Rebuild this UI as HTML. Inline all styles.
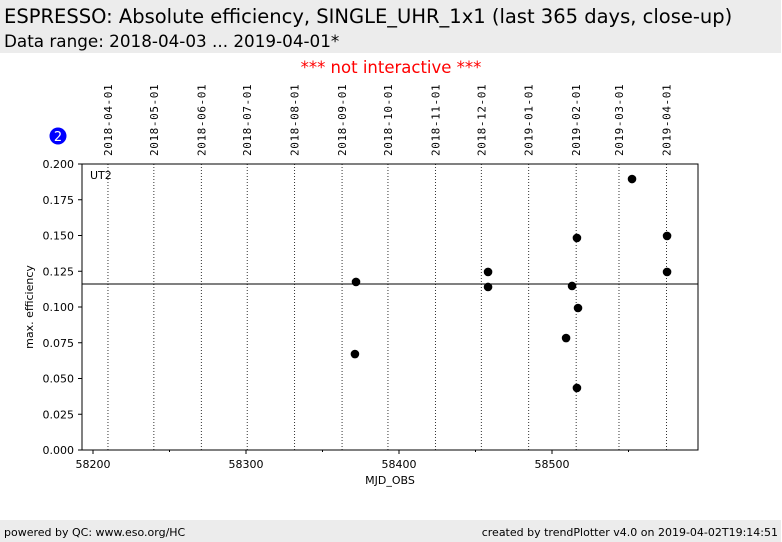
<!DOCTYPE html>
<html><head><meta charset="utf-8"><style>
body{margin:0;width:782px;height:542px;background:#fff;font-family:"DejaVu Sans","Liberation Sans",sans-serif;overflow:hidden;position:relative}
.hdr{position:absolute;left:0;top:0;width:781px;height:53px;background:#ececec}
.t1{position:absolute;left:4px;top:5px;font-size:19.5px;color:#000}
.t2{position:absolute;left:4px;top:31px;font-size:16.8px;color:#000}
.ni{position:absolute;left:0;width:782px;top:58px;text-align:center;color:#f00;font-size:16.5px}
.ftr{position:absolute;left:0;top:520px;width:781px;height:22px;background:#ececec;font-size:11px}
.fl{position:absolute;left:4px;top:6px}.fr{position:absolute;right:3px;top:6px}
svg{position:absolute;left:0;top:0}
</style></head><body>
<div class="hdr">
<div class="t1">ESPRESSO: Absolute efficiency, SINGLE_UHR_1x1 (last 365 days, close-up)</div>
<div class="t2">Data range: 2018-04-03 ... 2019-04-01*</div></div>
<div class="ni">*** not interactive ***</div>
<svg id="c" width="782" height="542"></svg>
<div class="ftr"><span class="fl">powered by QC: www.eso.org/HC</span><span class="fr">created by trendPlotter v4.0 on 2019-04-02T19:14:51</span></div>
<script>
const mjd=[58371.9,58371.2,58458.2,58458.2,58509.2,58513.1,58516.3,58517.0,58516.3,58552.3,58575.2,58575.2];
const eff=[0.1175,0.0671,0.1245,0.1140,0.0783,0.1147,0.1483,0.0993,0.0434,0.1895,0.1497,0.1245];
const dateLabels=["2018-04-01","2018-05-01","2018-06-01","2018-07-01","2018-08-01","2018-09-01","2018-10-01","2018-11-01","2018-12-01","2019-01-01","2019-02-01","2019-03-01","2019-04-01"];
const dateMjd=[58209,58239,58270,58300,58331,58362,58392,58423,58453,58484,58515,58543,58574];
const xTicks=[58200,58300,58400,58500];
const xMinor=[58250,58350,58450,58550];
const yTicks=[0,0.025,0.05,0.075,0.1,0.125,0.15,0.175,0.2];
const refLine=0.1161;
const L=82,R=698,T=164,B=450;
const X=v=>93+(v-58200)*1.53;
const Y=v=>B-(v/0.2)*(B-T);
const s=document.getElementById('c');const NS='http://www.w3.org/2000/svg';
function mk(t,a,txt){const e=document.createElementNS(NS,t);for(const k in a)e.setAttribute(k,a[k]);if(txt!=null)e.textContent=txt;s.appendChild(e);return e;}
let e;
dateMjd.forEach((m,i)=>{const x=X(m)+1.2;
e=mk('line',{x1:x,x2:x,y1:T,y2:B,stroke:'#000','stroke-width':0.8,'stroke-dasharray':'1,2'});

e=mk('text',{x:0,y:0,transform:`translate(${x+4},156) rotate(-90)`,'font-size':11,'font-family':'DejaVu Sans Mono, Liberation Mono, monospace','letter-spacing':'0.6'},dateLabels[i]);
});
e=mk('rect',{x:L,y:T,width:R-L,height:B-T,fill:'none',stroke:'#000','stroke-width':1});

yTicks.forEach(v=>{const y=Y(v);mk('line',{x1:L-4,x2:L,y1:y,y2:y,stroke:'#000'});
e=mk('text',{x:L-8,y:y+4,'text-anchor':'end','font-size':11},v.toFixed(3));
});
xTicks.forEach(v=>{const x=X(v);mk('line',{x1:x,x2:x,y1:B,y2:B+4,stroke:'#000'});
e=mk('text',{x:x,y:B+18,'text-anchor':'middle','font-size':11},v);
});
xMinor.forEach(v=>{const x=X(v);mk('line',{x1:x,x2:x,y1:B,y2:B+2,stroke:'#000'});});
e=mk('line',{x1:L,x2:R,y1:Y(refLine),y2:Y(refLine),stroke:'#000','stroke-width':1});

mjd.forEach((m,i)=>{e=mk('circle',{cx:X(m),cy:Y(eff[i]),r:4.3,fill:'#000'});
});
e=mk('text',{x:90,y:179,'font-size':11},'UT2');
e=mk('text',{x:390,y:484,'text-anchor':'middle','font-size':11},'MJD_OBS');
e=mk('text',{x:0,y:0,transform:'translate(33,307) rotate(-90)','text-anchor':'middle','font-size':11},'max. efficiency');
e=mk('circle',{cx:58,cy:136,r:8.5,fill:'#0000ff'});
e=mk('text',{x:58,y:141,'text-anchor':'middle','font-size':13,fill:'#fff'},'2');
</script></body></html>
